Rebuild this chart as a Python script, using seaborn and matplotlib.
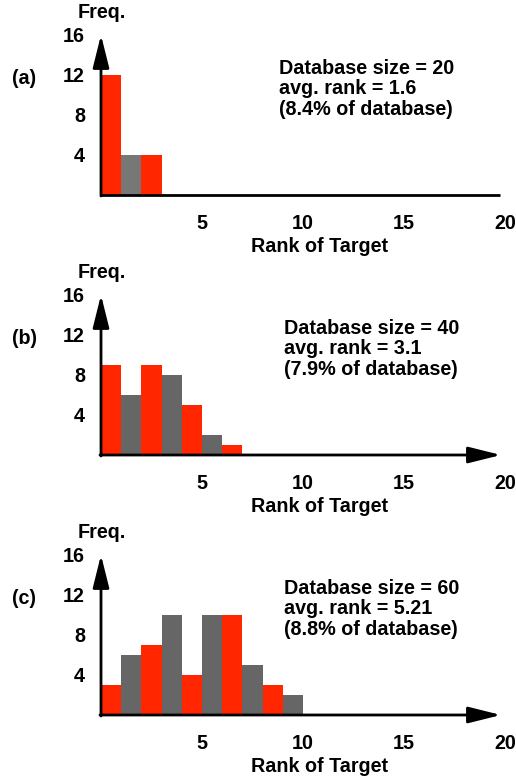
import matplotlib
matplotlib.use("Agg")
import matplotlib.pyplot as plt
import seaborn as sns
import pandas as pd
import numpy as np

sns.set_style("white")
plt.rcParams['font.family'] = ['Liberation Sans', 'DejaVu Sans']
plt.rcParams['font.weight'] = 'bold'
plt.rcParams['text.color'] = 'black'
plt.rcParams['xtick.color'] = 'black'
plt.rcParams['ytick.color'] = 'black'

# ---- data ----
panel_labels = ["(a)", "(b)", "(c)"]
db_sizes = [20, 40, 60]
avg_ranks = ["1.6", "3.1", "5.21"]
pct_db = ["8.4%", "7.9%", "8.8%"]
freq_a = [12, 4, 4]
freq_b = [9, 6, 9, 8, 5, 2, 1]
freq_c = [3, 6, 7, 10, 4, 10, 10, 5, 3, 2]
freqs = [freq_a, freq_b, freq_c]
x_ticks = [5, 10, 15, 20]
y_ticks = [4, 8, 12, 16]
x_label = "Rank of Target"
y_label = "Freq."

RED = "#ff2600"
GRAYS = ["#777777", "#666666", "#666666"]
FS = 14.2

fig = plt.figure(figsize=(5.16, 7.76), dpi=100)
W, H = 516, 776
px_unit_x = 20.2
bottoms_px = [195, 455, 715]
text_x = [8.8, 9.05, 9.05]

for i, (freq, bpx) in enumerate(zip(freqs, bottoms_px)):
    ax = fig.add_axes([101 / W, (H - bpx) / H, 20 * px_unit_x / W, 160 / H])
    ranks = np.arange(1, len(freq) + 1)
    df = pd.DataFrame({"rank": ranks, "pos": ranks - 0.5, "freq": freq,
                       "parity": ["odd" if r % 2 else "even" for r in ranks]})
    sns.barplot(data=df, x="pos", y="freq", hue="parity", native_scale=True,
                palette={"odd": RED, "even": GRAYS[i]}, width=1.0,
                linewidth=0, edgecolor="none", legend=False, ax=ax,
                saturation=1, dodge=False)
    ax.set_xlim(0, 20)
    ax.set_ylim(0, 16)
    for s in ax.spines.values():
        s.set_visible(False)
    ax.set_xticks(x_ticks)
    ax.set_xticklabels([str(t) for t in x_ticks])
    ax.set_yticks(y_ticks)
    ax.set_yticklabels([str(t) for t in y_ticks])
    ax.tick_params(axis="x", length=0, pad=13.5, labelsize=FS)
    ax.tick_params(axis="y", length=0, pad=11.5, labelsize=FS)
    for lab in ax.get_xticklabels() + ax.get_yticklabels():
        lab.set_fontweight("bold")
    ax.set_xlabel("")
    ax.set_ylabel("")

    # axes lines with arrows
    ax.annotate("", xy=(0, 16.0), xytext=(0, -0.1), xycoords="data",
                arrowprops=dict(arrowstyle="-|>,head_length=0.8,head_width=0.2",
                                lw=2.0, color="black", mutation_scale=25,
                                shrinkA=0, shrinkB=0),
                annotation_clip=False)
    if i == 0:
        ax.plot([-0.05, 19.75], [0, 0], color="black", lw=2.0,
                clip_on=False, solid_capstyle="butt")
    else:
        ax.annotate("", xy=(19.8, 0), xytext=(-0.05, 0), xycoords="data",
                    arrowprops=dict(arrowstyle="-|>,head_length=0.8,head_width=0.2",
                                    lw=2.0, color="black", mutation_scale=25,
                                    shrinkA=0, shrinkB=0),
                    annotation_clip=False)

    ax.text(10.8, -5.1, x_label, ha="center", va="center", fontsize=FS,
            fontweight="bold", clip_on=False)
    ax.text(0.05, 18.2, y_label, ha="center", va="center", fontsize=FS,
            fontweight="bold", clip_on=False)
    ax.text(-3.8, 11.7, panel_labels[i], ha="center", va="center", fontsize=FS,
            fontweight="bold", clip_on=False)
    ax.text(text_x[i], 13.65,
            f"Database size = {db_sizes[i]}\navg. rank = {avg_ranks[i]}\n({pct_db[i]} of database)",
            ha="left", va="top", fontsize=FS, fontweight="bold",
            linespacing=1.13, clip_on=False,
            transform=ax.transData)

fig.savefig("out.png", dpi=100)
